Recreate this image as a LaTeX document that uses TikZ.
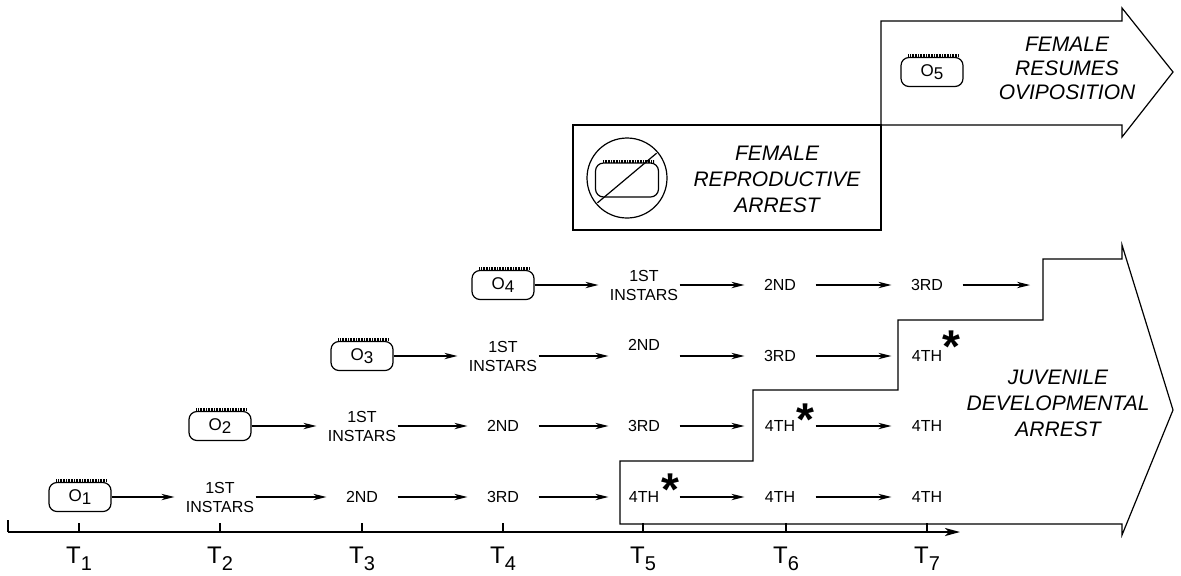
\documentclass[tikz,border=0pt]{standalone}
\usepackage{fontspec}
\setmainfont{Liberation Sans}
\usetikzlibrary{arrows.meta}
\newcommand{\eggsub}[1]{\raisebox{-1.5pt}{#1}}
\newcommand{\tsub}[1]{\raisebox{-3.5pt}{\fontsize{10}{10}\selectfont #1}}

\begin{document}
\begin{tikzpicture}[x=0.5pt, y=-0.5pt, line width=0.6pt, >={Stealth[length=6.5pt, width=3.2pt, inset=2pt]},
	stage/.style={minimum width=35pt, inner sep=0pt, align=center, font=\fontsize{8}{9.5}\selectfont},
	fringe/.style={-, line width=1.3pt, dash pattern=on 0.35pt off 0.45pt},
	egg/.style={draw, rounded corners=4pt, minimum width=31pt, minimum height=14.5pt, inner sep=0pt, font=\fontsize{8.5}{8.5}\selectfont, append after command={([xshift=4pt, yshift=0.6pt]\tikzlastnode.north west) edge[fringe] ([xshift=-2.5pt, yshift=0.6pt]\tikzlastnode.north east)}},
	ast/.style={anchor=north, inner sep=0pt, font=\fontsize{23}{23}\selectfont\bfseries},
	big/.style={align=center, font=\fontsize{10.5}{13}\selectfont\itshape},
	tlab/.style={anchor=base, inner sep=0pt, font=\fontsize{12}{12}\selectfont},
	into/.style={shorten >=5pt}]
	\useasboundingbox (0,0) rectangle (1181,575);
	\draw (573,125) rectangle (881,230);
	\draw (881,125) -- (881,21) -- (1122,21) -- (1122,8) -- (1173,72) -- (1122,137) -- (1122,125) -- cycle;
	\draw (620,524) -- (620,461) -- (753,461) -- (753,390) -- (898,390) -- (898,320) -- (1043,320) -- (1043,259) -- (1122,259) -- (1122,245) -- (1173,410) -- (1122,535) -- (1122,524) -- cycle;
	\node[draw, circle, minimum size=40pt, inner sep=0pt] (nocirc) at (627,178) {};
	\node[egg, minimum width=31.5pt, minimum height=17pt] (e0) at (627,180) {};
	\draw[shorten <=1pt, shorten >=1pt] (nocirc.220) -- (nocirc.40);
	\node[big] (fra) at (777,179) {FEMALE\\REPRODUCTIVE\\ARREST};
	\node[egg] (e5) at (932,72) {O\eggsub{5}};
	\node[big, font=\fontsize{10.5}{12}\selectfont\itshape] (frs) at (1067,68) {FEMALE\\RESUMES\\OVIPOSITION};
	\node[big] (jda) at (1058,403) {JUVENILE\\DEVELOPMENTAL\\ARREST};
	\node[egg] (e1) at (80,497) {O\eggsub{1}};
	\node[stage] (r1b) at (220,497) {1ST\\INSTARS};
	\node[stage] (r1c) at (362,497) {2ND};
	\node[stage] (r1d) at (503,497) {3RD};
	\node[stage] (r1e) at (644,497) {4TH};
	\node[stage] (r1f) at (780,497) {4TH};
	\node[stage] (r1g) at (927,497) {4TH};
	\node[ast] (s1) at (670,473) {*};
	\draw[->, into] (e1) -- (r1b);
	\draw[->] (r1b) -- (r1c);
	\draw[->] (r1c) -- (r1d);
	\draw[->] (r1d) -- (r1e);
	\draw[->] (r1e) -- (r1f);
	\draw[->] (r1f) -- (r1g);
	\node[egg] (e2) at (220,426) {O\eggsub{2}};
	\node[stage] (r2b) at (362,426) {1ST\\INSTARS};
	\node[stage] (r2c) at (503,426) {2ND};
	\node[stage] (r2d) at (644,426) {3RD};
	\node[stage] (r2e) at (780,426) {4TH};
	\node[stage] (r2f) at (927,426) {4TH};
	\node[ast] (s2) at (805,403) {*};
	\draw[->, into] (e2) -- (r2b);
	\draw[->] (r2b) -- (r2c);
	\draw[->] (r2c) -- (r2d);
	\draw[->] (r2d) -- (r2e);
	\draw[->] (r2e) -- (r2f);
	\node[egg] (e3) at (362,356) {O\eggsub{3}};
	\node[stage] (r3b) at (503,356) {1ST\\INSTARS};
	\node[stage] (r3c) at (644,345) {2ND};
	\node[stage] (r3d) at (780,356) {3RD};
	\node[stage] (r3e) at (927,356) {4TH};
	\node[ast] (s3) at (951,330) {*};
	\draw[->, into] (e3) -- (r3b);
	\draw[->] (r3b) -- (r3b -| r3c.west);
	\draw[->] (r3c.east |- r3d) -- (r3d);
	\draw[->] (r3d) -- (r3e);
	\node[egg] (e4) at (503,285) {O\eggsub{4}};
	\node[stage] (r4b) at (644,285) {1ST\\INSTARS};
	\node[stage] (r4c) at (780,285) {2ND};
	\node[stage] (r4d) at (927,285) {3RD};
	\coordinate (r4end) at (1030,285);
	\draw[->, into] (e4) -- (r4b);
	\draw[->] (r4b) -- (r4c);
	\draw[->] (r4c) -- (r4d);
	\draw[->] (r4d) -- (r4end);
	\coordinate (a0) at (8,532);
	\coordinate (a1) at (960,532);
	\draw[line width=1pt, -{Stealth[length=7.5pt, width=4pt, inset=2pt]}] (a0) -- (a1);
	\draw[line width=0.8pt] (a0) -- ++(0,-12);
	\foreach \x/\n in {79/1,220/2,362/3,503/4,643/5,786/6,927/7}{
		\draw (\x,532) -- (\x,523);
		\node[tlab] (t\n) at (\x,563) {T\tsub{\n}};
	}
\end{tikzpicture}
\end{document}
